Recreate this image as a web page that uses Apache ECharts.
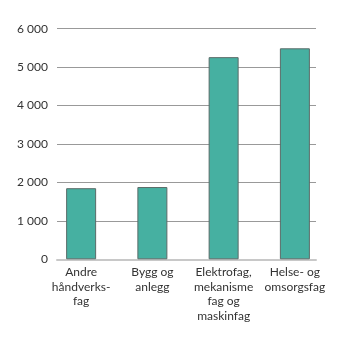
<!DOCTYPE html>
<html><head><meta charset="utf-8">
<script src="https://cdn.jsdelivr.net/npm/echarts@6/dist/echarts.min.js"></script>
<style>html,body{margin:0;padding:0;background:#fff}#c{width:345px;height:341px}</style>
</head><body><div id="c"></div>
<script>
const categories = ["Andre\nhåndverks-\nfag", "Bygg og\nanlegg", "Elektrofag,\nmekanisme\nfag og\nmaskinfag", "Helse- og\nomsorgsfag"];
const values = [1850, 1880, 5260, 5490];
const yTicks = { min: 0, max: 6000, interval: 1000 };

const font = "Lato";
const fmt = v => String(v).replace(/\B(?=(\d{3})+(?!\d))/g, " ");
const chart = echarts.init(document.getElementById('c'), null, {renderer: 'canvas'});
chart.setOption({
  animation: false,
  grid: [
    {left: 57, right: 29, top: 28.7, bottom: 81.7},
    {left: 45.5, right: 14.5, top: 28.7, bottom: 81.7}
  ],
  xAxis: [
    {gridIndex: 0, type: 'value', min: 0, max: 1, axisLabel: {show: false}, axisTick: {show: false},
     splitLine: {show: false}, axisLine: {show: true, onZero: false, lineStyle: {color: '#c8c8c8', width: 2}}},
    {gridIndex: 1, type: 'category', data: categories, axisLine: {show: false}, axisTick: {show: false},
     axisLabel: {interval: 0, margin: 6, color: '#333', fontFamily: font, fontSize: 12, lineHeight: 14.5}}
  ],
  yAxis: [
    {gridIndex: 0, type: 'value', min: yTicks.min, max: yTicks.max, interval: yTicks.interval,
     axisLine: {show: false}, axisTick: {show: false},
     axisLabel: {formatter: fmt, color: '#333', fontFamily: font, fontSize: 12, margin: 9},
     splitLine: {lineStyle: {color: '#999', width: 1}}},
    {gridIndex: 1, type: 'value', min: yTicks.min, max: yTicks.max, interval: yTicks.interval, show: false}
  ],
  series: [{
    type: 'bar', xAxisIndex: 1, yAxisIndex: 1, data: values, barWidth: 30,
    itemStyle: {color: '#46b0a1', borderColor: '#5a6b68', borderWidth: 1}
  }]
});
</script></body></html>
